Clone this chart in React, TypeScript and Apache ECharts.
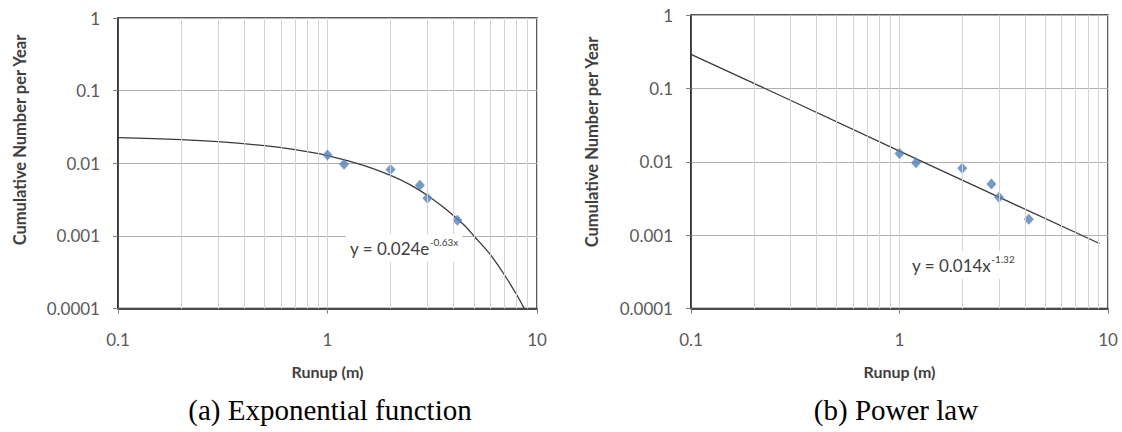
import React, { useEffect, useRef } from "react";
import * as echarts from "echarts";

// Observed runup points (same in both panels)
const runupObs = [1.0, 1.2, 2.0, 2.76, 3.0, 4.17];
const rateObs = [0.013, 0.0097, 0.0082, 0.005, 0.0033, 0.00165];

// Exponential trendline
const expFitX = [0.1, 0.2, 0.3, 0.5, 0.7, 1, 1.5, 2, 2.5, 3, 3.5, 4, 4.5, 5, 6, 7, 8, 8.7];
const expFitY = [0.0225, 0.0212, 0.0199, 0.0175, 0.0154, 0.0128, 0.0093, 0.0068, 0.005, 0.0036, 0.0026, 0.0019, 0.0014, 0.001, 0.00055, 0.00029, 0.000155, 0.0001];

// Power-law trendline
const powFitX = [0.1, 0.3, 1, 3, 9.1];
const powFitY = [0.29, 0.069, 0.014, 0.0033, 0.00077];

// Minor vertical gridlines
const minorGridX = [0.2, 0.3, 0.4, 0.5, 0.6, 0.7, 0.8, 0.9, 2, 3, 4, 5, 6, 7, 8, 9];

const xTitle = "Runup (m)";
const yTitle = "Cumulative Number per Year";
const eqA = ["y = 0.024e", "-0.63x"];
const eqB = ["y = 0.014x", "-1.32"];
const captionA = "(a) Exponential function";
const captionB = "(b) Power law";

const FONT = "Lato";
const LABEL_COLOR = "#595959";
const TITLE_COLOR = "#404040";

const fmt = (v: number) => String(Number(Number(v).toPrecision(1)));

function xAxisCfg(gridIndex: number) {
  return {
    type: "log",
    logBase: 10,
    gridIndex,
    min: 0.1,
    max: 10,
    name: xTitle,
    nameLocation: "middle",
    nameGap: 55,
    nameTextStyle: { fontFamily: FONT, fontWeight: "bold", fontSize: 16, color: TITLE_COLOR, verticalAlign: "top" },
    axisLine: { show: true, lineStyle: { color: "#262626", width: 1.5 } },
    axisTick: { show: true, length: 5, lineStyle: { color: "#808080" } },
    axisLabel: { fontFamily: FONT, fontSize: 17, color: LABEL_COLOR, margin: 22, formatter: fmt },
    splitLine: { show: true, lineStyle: { color: "#d4d4d4", width: 1 } },
  };
}

function yAxisCfg(gridIndex: number) {
  return {
    type: "log",
    logBase: 10,
    gridIndex,
    min: 0.0001,
    max: 1,
    axisLine: { show: true, lineStyle: { color: "#262626", width: 1.5 } },
    axisTick: { show: true, length: 5, lineStyle: { color: "#808080" } },
    axisLabel: { fontFamily: FONT, fontSize: 17, color: LABEL_COLOR, margin: 18, formatter: fmt },
    splitLine: { show: true, lineStyle: { color: "#b0b0b0", width: 1 } },
  };
}

function eqText(parts: string[], x: number, y: number) {
  return {
    type: "text",
    x,
    y,
    z: 100,
    style: {
      text: `{m|${parts[0]}}{s|${parts[1]}}`,
      backgroundColor: "#ffffff",
      padding: [3, 4],
      rich: {
        m: { fontFamily: FONT, fontSize: 17, lineHeight: 22, fill: TITLE_COLOR, color: TITLE_COLOR },
        s: { fontFamily: FONT, fontSize: 10, lineHeight: 12, verticalAlign: "top", fill: TITLE_COLOR, color: TITLE_COLOR },
      },
    },
  };
}

function yTitleText(x: number, y: number) {
  return {
    type: "text",
    x,
    y,
    rotation: Math.PI / 2,
    style: {
      text: yTitle,
      font: `bold 16.5px ${FONT}`,
      fill: TITLE_COLOR,
      align: "center",
      verticalAlign: "middle",
    },
  };
}

export default function App() {
  const ref = useRef<HTMLDivElement>(null);
  useEffect(() => {
    document.body.style.margin = "0";
    if (!ref.current) return;
    const chart = echarts.init(ref.current, undefined, { renderer: "svg" });
    const obs = runupObs.map((x, i) => [x, rateObs[i]]);
    const expFit = expFitX.map((x, i) => [x, expFitY[i]]);
    const powFit = powFitX.map((x, i) => [x, powFitY[i]]);
    const minorLines = (xi: number) => ({
      type: "line",
      xAxisIndex: xi,
      yAxisIndex: xi,
      data: [],
      z: 1,
      silent: true,
      markLine: {
        silent: true,
        symbol: ["none", "none"],
        label: { show: false },
        emphasis: { disabled: true },
        lineStyle: { color: "#d4d4d4", type: "solid", width: 1 },
        data: minorGridX.map((v) => ({ xAxis: v })),
      },
    });
    chart.setOption({
      animation: false,
      backgroundColor: "#ffffff",
      grid: [
        { left: 118, top: 18, width: 419, height: 290.6, show: true, borderColor: "#262626", borderWidth: 1.5, backgroundColor: "transparent" },
        { left: 691, top: 15, width: 417, height: 293.6, show: true, borderColor: "#262626", borderWidth: 1.5, backgroundColor: "transparent" },
      ],
      xAxis: [xAxisCfg(0), xAxisCfg(1)],
      yAxis: [yAxisCfg(0), yAxisCfg(1)],
      series: [
        minorLines(0),
        minorLines(1),
        {
          type: "line",
          xAxisIndex: 0,
          yAxisIndex: 0,
          data: expFit,
          smooth: 0.3,
          symbol: "none",
          z: 3,
          lineStyle: { color: "#3a3a3a", width: 1.3 },
        },
        {
          type: "line",
          xAxisIndex: 1,
          yAxisIndex: 1,
          data: powFit,
          symbol: "none",
          z: 3,
          lineStyle: { color: "#3a3a3a", width: 1.3 },
        },
        {
          type: "scatter",
          xAxisIndex: 0,
          yAxisIndex: 0,
          data: obs,
          symbol: "diamond",
          symbolSize: [10, 11],
          z: 4,
          itemStyle: { color: "#4F81BD" },
        },
        {
          type: "scatter",
          xAxisIndex: 1,
          yAxisIndex: 1,
          data: obs,
          symbol: "diamond",
          symbolSize: [10, 11],
          z: 4,
          itemStyle: { color: "#4F81BD" },
        },
      ],
      graphic: [
        yTitleText(20, 140),
        yTitleText(592, 142),
        eqText(eqA, 346, 234),
        eqText(eqB, 908, 251),
        {
          type: "text",
          x: 330,
          y: 410,
          style: { text: captionA, font: '29px "Liberation Serif"', fill: "#000", align: "center", verticalAlign: "middle" },
        },
        {
          type: "text",
          x: 896,
          y: 410,
          style: { text: captionB, font: '29px "Liberation Serif"', fill: "#000", align: "center", verticalAlign: "middle" },
        },
      ],
    });
    return () => chart.dispose();
  }, []);
  return <div ref={ref} style={{ width: 1122, height: 432 }} />;
}
